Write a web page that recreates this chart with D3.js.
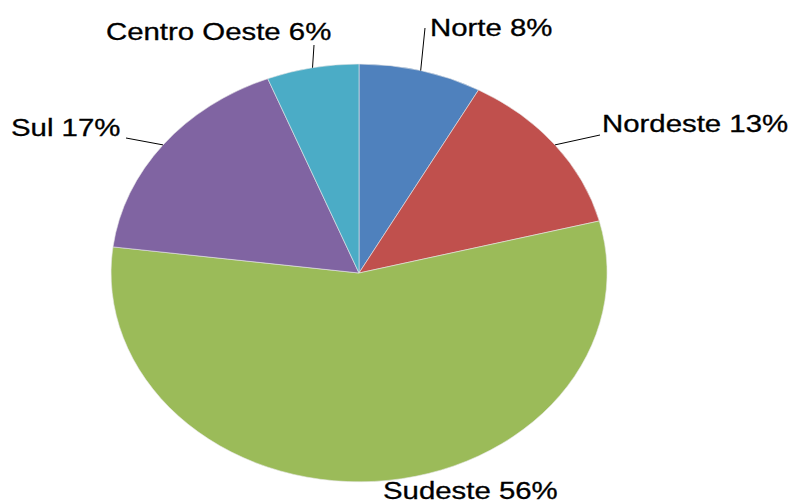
<!DOCTYPE html>
<html>
<head>
<meta charset="utf-8">
<script src="https://cdn.jsdelivr.net/npm/d3@7/dist/d3.min.js"></script>
<style>
  html, body { margin: 0; padding: 0; background: #fff; }
  svg { display: block; }
</style>
</head>
<body>
<svg id="chart" width="790" height="503"></svg>
<script>
// Regional shares (%)
const regions = ["Norte", "Nordeste", "Sudeste", "Sul", "Centro Oeste"];
const shares = [8, 13, 56, 17, 6];
const colors = ["#4F81BD", "#C0504D", "#9BBB59", "#8064A2", "#4BACC6"];

// Layout: ellipse geometry and label anchors (text start x, baseline y, leader end)
const cx = 359, cy = 273, rx = 248, ry = 209;
const labelPos = {
  "Norte":        { x: 430, y: 36,    lx: 425, ly: 28 },
  "Nordeste":     { x: 602, y: 131.5, lx: 600, ly: 135 },
  "Sudeste":      { x: 383, y: 499,   lx: null, ly: null },
  "Sul":          { x: 11,  y: 136,   lx: 126, ly: 138 },
  "Centro Oeste": { x: 106, y: 40,    lx: 314, ly: 45 }
};
const fontSize = 23.5, stretch = 1.25;

const data = regions.map((r, i) => ({ name: r, value: shares[i], color: colors[i] }));
const svg = d3.select("#chart");

const pie = d3.pie().value(d => d.value).sort(null);
const arcs = pie(data);
const arc = d3.arc().innerRadius(0).outerRadius(1);

// Unit-radius pie stretched into an ellipse
const g = svg.append("g").attr("transform", `translate(${cx},${cy}) scale(${rx},${ry})`);
g.selectAll("path")
  .data(arcs)
  .enter().append("path")
  .attr("d", arc)
  .attr("fill", d => d.data.color)
  .attr("stroke", "#e8e8e8")
  .attr("stroke-width", 0.6)
  .attr("vector-effect", "non-scaling-stroke");

// Leader lines from the slice mid-angle on the rim to the label
arcs.forEach(a => {
  const p = labelPos[a.data.name];
  if (p.lx === null) return;
  const mid = (a.startAngle + a.endAngle) / 2;
  const x0 = cx + rx * Math.sin(mid);
  const y0 = cy - ry * Math.cos(mid);
  svg.append("line")
    .attr("x1", x0).attr("y1", y0)
    .attr("x2", p.lx).attr("y2", p.ly)
    .attr("stroke", "#000")
    .attr("stroke-width", 1);
});

// Labels
arcs.forEach(a => {
  const p = labelPos[a.data.name];
  svg.append("text")
    .attr("transform", `translate(${p.x},${p.y}) scale(${stretch},1)`)
    .attr("font-family", "'Liberation Sans', Arial, sans-serif")
    .attr("font-size", fontSize)
    .attr("fill", "#000")
    .attr("stroke", "#000")
    .attr("stroke-width", 0.3)
    .text(`${a.data.name} ${a.data.value}%`);
});
</script>
</body>
</html>
